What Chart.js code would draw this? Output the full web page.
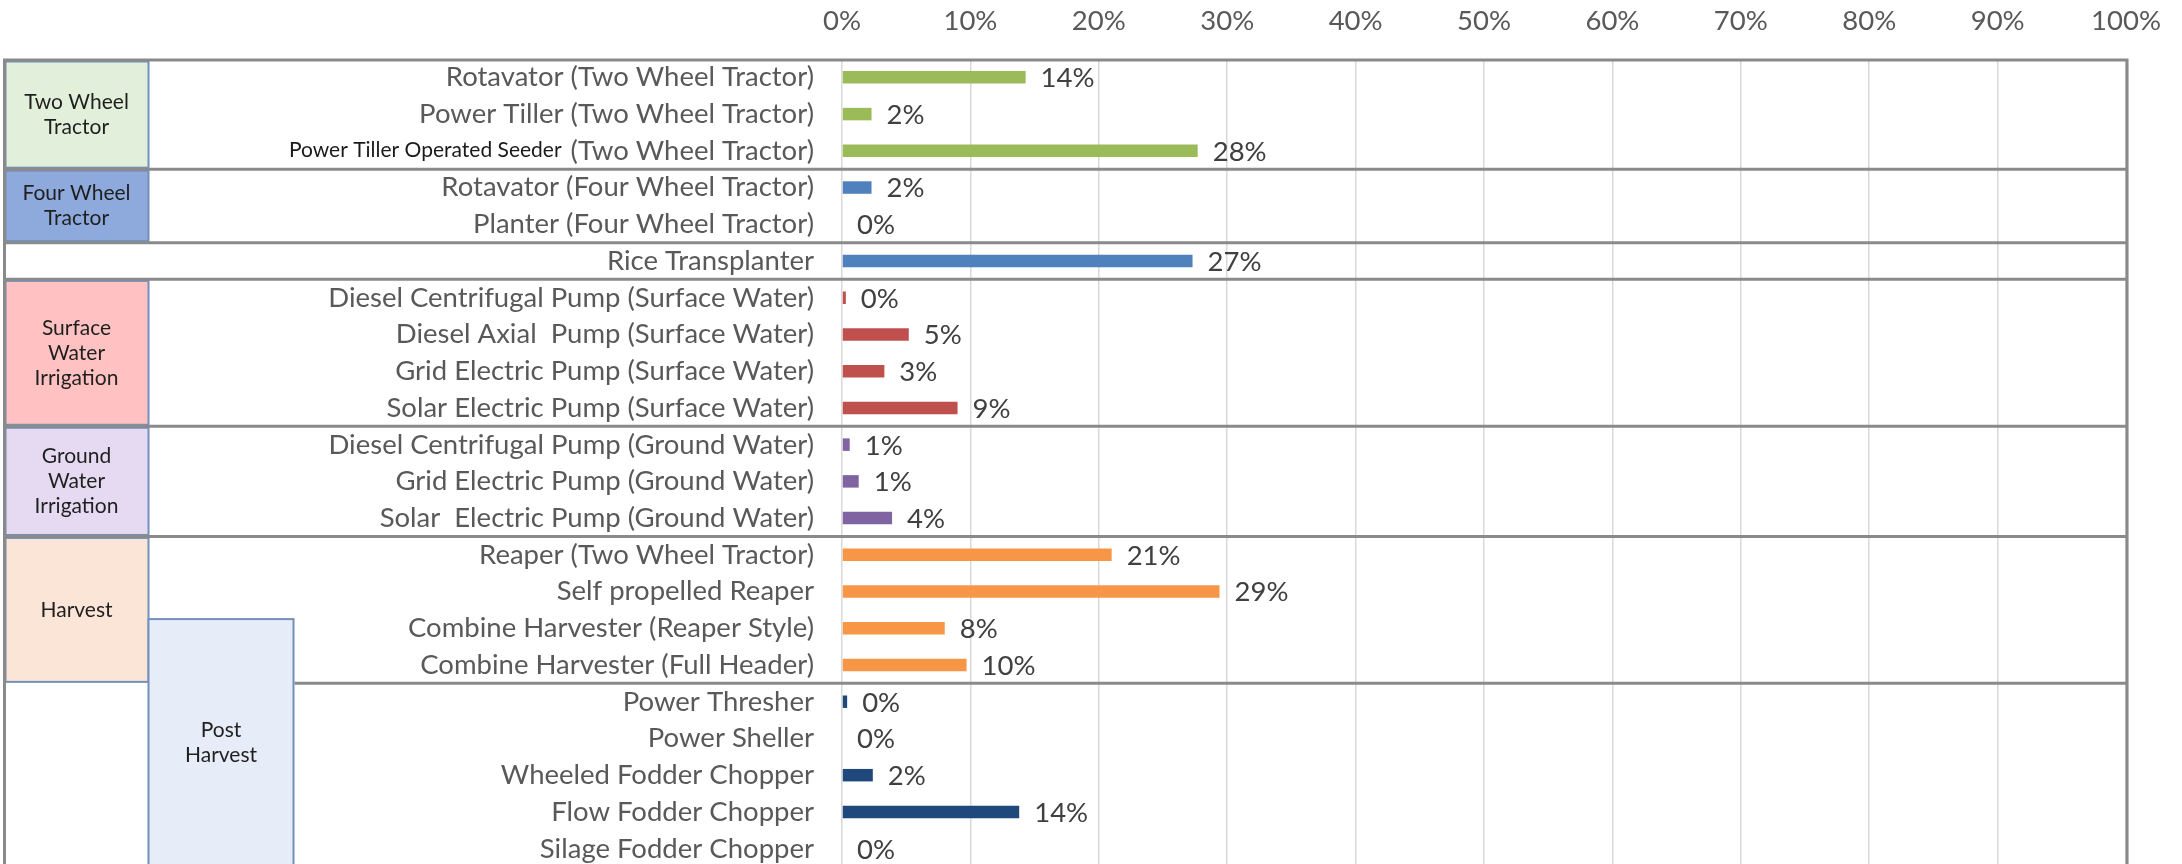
<!DOCTYPE html>
<html>
<head>
<meta charset="utf-8">
<script src="https://cdn.jsdelivr.net/npm/chart.js@4.4.1/dist/chart.umd.min.js"></script>
<style>
  html, body { margin: 0; padding: 0; background: #ffffff; overflow: hidden; }
  #wrap { width: 2182px; height: 870px; }
</style>
</head>
<body>
<div id="wrap"><canvas id="chart" width="2182" height="870"></canvas></div>
<script>
// Machines, top to bottom
const machines = [
  'Rotavator (Two Wheel Tractor)',
  'Power Tiller (Two Wheel Tractor)',
  'Power Tiller Operated Seeder (Two Wheel Tractor)',
  'Rotavator (Four Wheel Tractor)',
  'Planter (Four Wheel Tractor)',
  'Rice Transplanter',
  'Diesel Centrifugal Pump (Surface Water)',
  'Diesel Axial  Pump (Surface Water)',
  'Grid Electric Pump (Surface Water)',
  'Solar Electric Pump (Surface Water)',
  'Diesel Centrifugal Pump (Ground Water)',
  'Grid Electric Pump (Ground Water)',
  'Solar  Electric Pump (Ground Water)',
  'Reaper (Two Wheel Tractor)',
  'Self propelled Reaper',
  'Combine Harvester (Reaper Style)',
  'Combine Harvester (Full Header)',
  'Power Thresher',
  'Power Sheller',
  'Wheeled Fodder Chopper',
  'Flow Fodder Chopper',
  'Silage Fodder Chopper'
];

// Share of respondents using each machine (%)
const adoptionShare = [14.3, 2.3, 27.7, 2.3, 0, 27.3, 0.3, 5.2, 3.3, 9.0, 0.6, 1.3, 3.9, 21.0, 29.4, 8.0, 9.7, 0.4, 0, 2.4, 13.8, 0];

// Machine groups: caption lines, number of rows, bar colour, caption box colour
const groupCaptions = [['Two Wheel', 'Tractor'], ['Four Wheel', 'Tractor'], [], ['Surface', 'Water', 'Irrigation'], ['Ground', 'Water', 'Irrigation'], ['Harvest'], ['Post', 'Harvest']];
const groupSizes = [3, 2, 1, 4, 3, 4, 5];
const groupBarColours = ['#9BBB59', '#4F81BD', '#4F81BD', '#C0504D', '#8064A2', '#F79646', '#1F497D'];
const groupBoxColours = ['#E2EFDA', '#8EA9DB', null, '#FFC1C1', '#E5DAF1', '#FBE5D6', '#E6EDF8'];

// Axis tick labels
const percentTicks = ['0%', '10%', '20%', '30%', '40%', '50%', '60%', '70%', '80%', '90%', '100%'];

// The seeder row shows its machine name in a separate caption font
const seederPrefix = 'Power Tiller Operated Seeder';

const barColours = [];
groupSizes.forEach((n, g) => { for (let i = 0; i < n; i++) barColours.push(groupBarColours[g]); });

const LABEL_FONT = { family: 'Lato, "Open Sans", sans-serif', size: 27.5 };
const CAPTION_FONT = '21px Lato, "Open Sans", sans-serif';
const FRAME = '#8A8A8A';
const BOX_EDGE = '#7390BC';
const Y_TICK_PAD = 28;

function tickText(label) {
  return label.startsWith(seederPrefix) ? label.slice(seederPrefix.length + 1) : label;
}

// Value labels to the right of each bar
const valueLabels = {
  id: 'valueLabels',
  afterDatasetsDraw(chart) {
    const ctx = chart.ctx;
    const meta = chart.getDatasetMeta(0);
    ctx.save();
    ctx.font = `${LABEL_FONT.size}px ${LABEL_FONT.family}`;
    ctx.fillStyle = '#404040';
    ctx.textAlign = 'left';
    ctx.textBaseline = 'middle';
    meta.data.forEach((bar, i) => {
      ctx.fillText(Math.round(adoptionShare[i]) + '%', bar.x + 15, bar.y + 1);
    });
    ctx.restore();
  }
};

// Group caption boxes, group separators and outer frame
const groupFrame = {
  id: 'groupFrame',
  afterDraw(chart) {
    const { ctx, chartArea, scales } = chart;
    const y = scales.y;
    const left = 4.5, right = chartArea.right + 1, top = chartArea.top + 1;
    const bottom = chart.height + 10;
    const colEnd = 148.5, col2End = 293.5;

    const spans = [];
    let start = 0;
    groupSizes.forEach((n) => {
      spans.push({ y0: y.getPixelForValue(start - 0.5), y1: y.getPixelForValue(start + n - 0.5), first: start, n });
      start += n;
    });

    ctx.save();
    // caption boxes in the first column
    spans.forEach((s, g) => {
      if (g === groupSizes.length - 1 || !groupBoxColours[g]) return;
      const y0 = Math.max(s.y0, top) + 1.5, y1 = s.y1 - 1.5;
      ctx.fillStyle = groupBoxColours[g];
      ctx.fillRect(left, y0, colEnd - left, y1 - y0);
      ctx.strokeStyle = BOX_EDGE;
      ctx.lineWidth = 2;
      ctx.strokeRect(left + 1, y0, colEnd - left - 1, y1 - y0);
    });

    // post-harvest box in the second column
    const last = spans[spans.length - 1];
    const phTop = y.getPixelForValue(last.first - 2.25);
    ctx.fillStyle = groupBoxColours[groupSizes.length - 1];
    ctx.fillRect(colEnd, phTop, col2End - colEnd, bottom - phTop);
    ctx.strokeStyle = BOX_EDGE;
    ctx.lineWidth = 2;
    ctx.strokeRect(colEnd, phTop, col2End - colEnd, bottom - phTop);

    // separators between groups
    ctx.strokeStyle = FRAME;
    ctx.lineWidth = 3;
    spans.slice(0, -1).forEach((s, g) => {
      const x0 = (g === spans.length - 2) ? col2End + 1 : left;
      ctx.beginPath();
      ctx.moveTo(x0, s.y1);
      ctx.lineTo(right, s.y1);
      ctx.stroke();
    });

    // outer frame
    ctx.beginPath();
    ctx.moveTo(left, bottom);
    ctx.lineTo(left, top);
    ctx.lineTo(right, top);
    ctx.lineTo(right, bottom);
    ctx.stroke();

    // captions
    ctx.font = CAPTION_FONT;
    ctx.fillStyle = '#1F1F1F';
    ctx.textAlign = 'center';
    ctx.textBaseline = 'middle';
    spans.forEach((s, g) => {
      const lines = groupCaptions[g];
      if (!lines.length) return;
      let cx, cy;
      if (g === groupSizes.length - 1) {
        cx = (colEnd + col2End) / 2;
        cy = (phTop + chartArea.bottom) / 2;
      } else {
        cx = (left + colEnd) / 2;
        cy = (Math.max(s.y0, top) + s.y1) / 2;
      }
      const lh = 25;
      lines.forEach((t, k) => ctx.fillText(t, cx, cy + (k - (lines.length - 1) / 2) * lh));
    });

    // seeder machine name, set before its tractor type
    const idx = machines.findIndex(m => m.startsWith(seederPrefix));
    ctx.font = `${LABEL_FONT.size}px ${LABEL_FONT.family}`;
    const w = ctx.measureText(tickText(machines[idx])).width;
    ctx.font = CAPTION_FONT;
    ctx.fillStyle = '#1A1A1A';
    ctx.textAlign = 'right';
    ctx.fillText(seederPrefix, chartArea.left - Y_TICK_PAD - w - 9, y.getPixelForValue(idx) - 1);
    ctx.restore();
  }
};

function draw() {
  new Chart(document.getElementById('chart'), {
    type: 'bar',
    data: {
      labels: machines,
      datasets: [{
        data: adoptionShare,
        backgroundColor: barColours,
        borderWidth: 0,
        barPercentage: 0.34,
        categoryPercentage: 1
      }]
    },
    options: {
      indexAxis: 'y',
      responsive: false,
      animation: false,
      layout: { padding: { left: 0, right: 50, top: 0, bottom: 3 } },
      plugins: { legend: { display: false }, tooltip: { enabled: false } },
      scales: {
        x: {
          position: 'top',
          min: 0,
          max: 100,
          afterFit(scale) { scale.height = 59; },
          ticks: {
            stepSize: 10,
            color: '#595959',
            font: LABEL_FONT,
            padding: 21,
            callback: (v, i) => percentTicks[i]
          },
          grid: { color: '#D9D9D9', lineWidth: 1.5, drawTicks: false },
          border: { display: false }
        },
        y: {
          afterFit(scale) {
            scale.width = 842;
            scale.paddingTop = 0;
            scale.paddingBottom = 0;
          },
          ticks: {
            color: '#595959',
            font: LABEL_FONT,
            padding: Y_TICK_PAD,
            autoSkip: false,
            callback: (v, i) => tickText(machines[i])
          },
          grid: { display: false, drawTicks: false },
          border: { display: false }
        }
      }
    },
    plugins: [valueLabels, groupFrame]
  });
}

const fontsReady = document.fonts && document.fonts.load
  ? Promise.all([document.fonts.load('27px Lato'), document.fonts.load('21px Lato')]).catch(() => {})
  : Promise.resolve();
fontsReady.then(draw, draw);
</script>
</body>
</html>
